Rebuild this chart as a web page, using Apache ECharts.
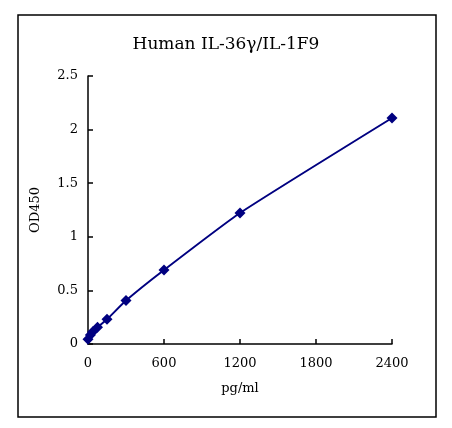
<!DOCTYPE html>
<html>
<head>
<meta charset="utf-8">
<script src="https://cdn.jsdelivr.net/npm/echarts@6/dist/echarts.min.js"></script>
<style>
  html, body { margin: 0; padding: 0; background: #fff; }
  #chart { width: 452px; height: 428px; }
</style>
</head>
<body>
<div id="chart"></div>
<script>
// standard curve data
const conc = [0, 18.75, 37.5, 75, 150, 300, 600, 1200, 2400];
const od = [0.044, 0.084, 0.115, 0.156, 0.23, 0.405, 0.69, 1.222, 2.108];
const xTicks = [0, 600, 1200, 1800, 2400];
const yTicks = [0, 0.5, 1, 1.5, 2, 2.5];

const fontFam = 'DejaVu Serif';

let myChart = echarts.init(document.getElementById('chart'));
myChart.setOption({
  animation: false,
  textStyle: { fontFamily: fontFam, color: '#000' },
  title: {
    text: 'Human IL-36γ/IL-1F9',
    left: 'center',
    top: 31,
    textStyle: { fontFamily: fontFam, fontSize: 17, fontWeight: 'normal', color: '#000' }
  },
  graphic: [{
    type: 'rect',
    shape: { x: 18, y: 15, width: 418, height: 402 },
    style: { fill: null, stroke: '#000', lineWidth: 1.5 },
    silent: true
  }],
  grid: { left: 88, right: 60, top: 76, bottom: 84 },
  xAxis: {
    type: 'value',
    min: xTicks[0],
    max: xTicks[xTicks.length - 1],
    interval: 600,
    name: 'pg/ml',
    nameLocation: 'middle',
    nameGap: 38,
    nameTextStyle: { fontFamily: fontFam, fontSize: 13, color: '#000' },
    axisLine: { lineStyle: { color: '#000', width: 1.5 } },
    axisTick: { inside: true, length: 5, lineStyle: { color: '#000', width: 1.5 } },
    axisLabel: { fontFamily: fontFam, fontSize: 13, color: '#000', margin: 13, formatter: v => String(v) },
    splitLine: { show: false }
  },
  yAxis: {
    type: 'value',
    min: yTicks[0],
    max: yTicks[yTicks.length - 1],
    interval: 0.5,
    name: 'OD450',
    nameLocation: 'middle',
    nameGap: 46,
    nameRotate: 90,
    nameTextStyle: { fontFamily: fontFam, fontSize: 13, color: '#000' },
    axisLine: { show: true, lineStyle: { color: '#000', width: 1.5 } },
    axisTick: { show: true, inside: true, length: 5, lineStyle: { color: '#000', width: 1.5 } },
    axisLabel: { fontFamily: fontFam, fontSize: 13, color: '#000', margin: 10, formatter: v => String(v) },
    splitLine: { show: false }
  },
  series: [{
    type: 'line',
    data: conc.map((c, i) => [c, od[i]]),
    smooth: 0.15,
    symbol: 'diamond',
    symbolSize: 11,
    itemStyle: { color: '#000080' },
    lineStyle: { color: '#000080', width: 2 }
  }]
});
</script>
</body>
</html>
